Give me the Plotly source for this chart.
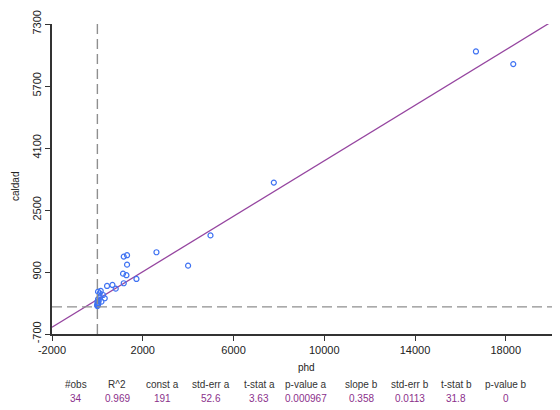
import plotly.graph_objects as go

# Data
phd = [16685, 18330, 7777, 4985, 2604, 3998, 1162, 1308, 1308, 1131, 1281, 1722,
       1162, 809, 664, 426, 148,
       29, 104, 104, 249, 324, 29, 0, 178, 0, 29, 0,
       10, 20, 40, 60, 5, 15]
caldad = [6592, 6266, 3208, 1844, 1410, 1064, 1297, 1333, 1090, 858, 817, 721,
          610, 470, 566, 540, 411,
          393, 351, 263, 307, 222, 196, 134, 134, 49, 49, 31,
          60, 80, 100, 160, 20, 70]

intercept = 191
slope = 0.358

x_ticks = [-2000, 2000, 6000, 10000, 14000, 18000]
y_ticks = [-700, 900, 2500, 4100, 5700, 7300]

stat_names = ["#obs", "R^2", "const a", "std-err a", "t-stat a", "p-value a",
              "slope b", "std-err b", "t-stat b", "p-value b"]
stat_values = ["34", "0.969", "191", "52.6", "3.63", "0.000967",
               "0.358", "0.0113", "31.8", "0"]
stat_x = [76, 117, 162, 211, 259, 306, 361, 410, 456, 506]

x_range = [-2000, 20390]
y_range = [-700, 7300]

fig = go.Figure()

line_x = [x_range[0], x_range[1]]
line_y = [intercept + slope * v for v in line_x]
fig.add_trace(go.Scatter(x=line_x, y=line_y, mode="lines",
                         line=dict(color="#9646A0", width=1.3),
                         hoverinfo="skip", showlegend=False))

fig.add_trace(go.Scatter(x=phd, y=caldad, mode="markers",
                         marker=dict(symbol="circle-open", size=5,
                                     color="#3F72F2", line=dict(width=1.2)),
                         showlegend=False))

# reference dashed lines at x=0, y=0
fig.add_shape(type="line", xref="x", yref="paper", x0=0, x1=0, y0=0, y1=1,
              line=dict(color="#8f8f8f", width=1.4, dash="10px,5px"))
fig.add_shape(type="line", xref="paper", yref="y", x0=0, x1=1, y0=0, y1=0,
              line=dict(color="#8f8f8f", width=1.4, dash="10px,5px"))

# the page body adds an 8px offset; lay out so page pixels match the reference
OFF = 8
W, H = 560 - OFF, 410 - OFF
ml, mr, mt, mb = 52 - OFF, 0, 24 - OFF, 76

annotations = []
annotations.append(dict(text="phd", x=306, y=367, font=dict(size=10, color="#222")))
annotations.append(dict(text="caldad", x=15, y=187, textangle=-90,
                        font=dict(size=10, color="#222")))
for name, val, sx in zip(stat_names, stat_values, stat_x):
    annotations.append(dict(text=name, x=sx, y=384, font=dict(size=10, color="#333")))
    annotations.append(dict(text=val, x=sx, y=398, font=dict(size=10, color="#8B2F8B")))

pw = W - ml - mr
ph = H - mt - mb
for a in annotations:
    px = a["x"] - OFF
    py = a["y"] - OFF
    a["x"] = (px - ml) / pw
    a["y"] = (H - py - mb) / ph
    a["xref"] = "paper"
    a["yref"] = "paper"
    a["xanchor"] = "center"
    a["yanchor"] = "middle"
    a["showarrow"] = False

fig.update_layout(
    width=W, height=H,
    margin=dict(l=ml, r=mr, t=mt, b=mb),
    paper_bgcolor="white", plot_bgcolor="white",
    font=dict(family="Liberation Sans, Arial, sans-serif", size=11, color="#222"),
    annotations=annotations,
    xaxis=dict(range=x_range, tickvals=x_ticks, ticktext=[str(v) for v in x_ticks],
               showgrid=False, zeroline=False, showline=True, linecolor="#333",
               linewidth=1.5, ticks="outside", ticklen=5, tickcolor="#333",
               tickfont=dict(size=11, color="#222")),
    yaxis=dict(range=y_range, tickvals=y_ticks, ticktext=[str(v) for v in y_ticks],
               tickangle=-90, showgrid=False, zeroline=False, showline=True,
               linecolor="#333", linewidth=1.5, ticks="outside", ticklen=5,
               tickcolor="#333", tickfont=dict(size=11, color="#222")),
)

fig.write_html("out.html")
